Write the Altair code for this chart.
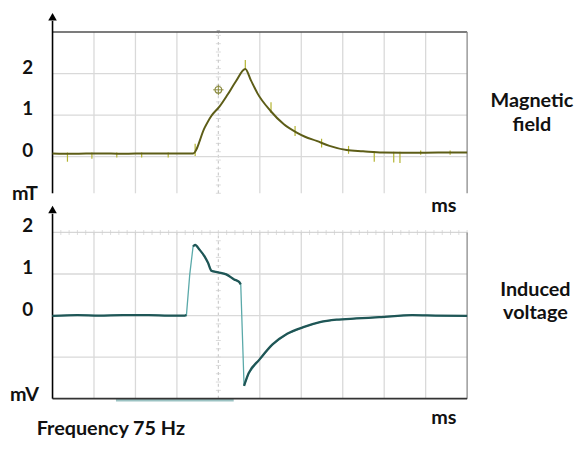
import altair as alt
import pandas as pd

# ---------------- data ----------------
# x in screen divisions (0..10), y in panel units (grid = 1 unit)
field_x = [0, 0.5, 1.12, 1.7, 2.32, 2.9, 3.39, 3.67, 3.83, 4.03, 4.22, 4.42, 4.65,
           4.78, 4.94, 5.26, 5.58, 5.89, 6.09, 6.37, 6.68, 7.09, 7.49, 7.96, 8.68, 9.3, 10]
field_y = [0.08, 0.07, 0.08, 0.07, 0.08, 0.08, 0.08, 0.70, 0.98, 1.21, 1.49, 1.81, 2.11,
           1.85, 1.53, 1.10, 0.78, 0.58, 0.48, 0.38, 0.26, 0.16, 0.13, 0.10, 0.095, 0.10, 0.10]

spike_x = [0.36, 0.95, 1.55, 2.15, 2.79, 3.44, 4.65, 5.27, 5.85, 6.49, 7.14, 7.76, 8.23, 8.38, 8.88, 9.59]
spike_top = [0.10, 0.10, 0.10, 0.10, 0.10, 0.31, 2.33, 1.31, 0.74, 0.43, 0.26, 0.14, 0.12, 0.12, 0.15, 0.15]
spike_bot = [-0.12, -0.05, -0.02, -0.02, -0.02, 0.02, 2.10, 1.05, 0.50, 0.22, 0.07, -0.12, -0.14, -0.15, 0.05, 0.05]

volt_x = [0, 0.6, 1.12, 1.7, 2.32, 2.8, 3.19, 3.23, 3.31, 3.39, 3.44, 3.55, 3.67, 3.75, 3.83,
          3.99, 4.19, 4.38, 4.50, 4.54, 4.62, 4.73, 4.99, 5.30, 5.66, 6.05, 6.45, 6.85, 7.33,
          7.88, 8.68, 9.24, 10]
volt_y = [-0.01, 0.01, 0.0, 0.01, 0.01, 0.0, 0.0, 0.01, 0.99, 1.66, 1.70, 1.58, 1.42, 1.27, 1.08,
          1.04, 0.99, 0.87, 0.81, 0.75, -1.69, -1.39, -1.06, -0.70, -0.44, -0.28, -0.16, -0.10, -0.07,
          -0.04, 0.01, 0.0, -0.01]
volt_seg = [0] * 8 + [9] + [1] * 11 + [2] * 13

top_ticks = [0, 1, 2]
top_labels = ["2", "1", "0"]
top_label_vals = [2, 1, 0]
bot_labels = ["2", "1", "0"]
bot_label_vals = [2, 1, 0]

# ---------------- geometry ----------------
W = 572
H1, H2 = 191, 243
XD = [-1.074, 12.578]
TOP_D = [-1.024, 3.524]
BOT_D = [-2.988, 2.798]

xs = alt.Scale(domain=XD, nice=False, zero=False)
ys_top = alt.Scale(domain=TOP_D, nice=False, zero=False)
ys_bot = alt.Scale(domain=BOT_D, nice=False, zero=False)

FONT = "Lato"
GRID = "#d9d9d9"
FS = 20


def X(f="x"):
    return alt.X(f"{f}:Q", scale=xs, axis=None)


def Y(sc, f="y"):
    return alt.Y(f"{f}:Q", scale=sc, axis=None)


def vrules(xv, y0, y1, sc, **kw):
    df = pd.DataFrame({"x": xv, "y": [y0] * len(xv), "y2": [y1] * len(xv)})
    return alt.Chart(df).mark_rule(**kw).encode(x=X(), y=Y(sc), y2="y2:Q")


def hrules(yv, x0, x1, sc, **kw):
    df = pd.DataFrame({"y": yv, "x": [x0] * len(yv), "x2": [x1] * len(yv)})
    return alt.Chart(df).mark_rule(**kw).encode(x=X(), x2="x2:Q", y=Y(sc))


def texts(xv, yv, tv, sc, **kw):
    df = pd.DataFrame({"x": xv, "y": yv, "t": tv})
    base = dict(font=FONT, fontWeight="bold", fontSize=FS, color="#111111")
    base.update(kw)
    return alt.Chart(df).mark_text(**base).encode(x=X(), y=Y(sc), text="t:N")


def points(xv, yv, sc, **kw):
    df = pd.DataFrame({"x": xv, "y": yv})
    return alt.Chart(df).mark_point(**kw).encode(x=X(), y=Y(sc))


minor = [i / 5 for i in range(0, 51)]

# ---------------- top panel: magnetic field ----------------
t_lo, t_hi = -0.88, 3.0
top_layers = [
    vrules([1, 2, 3, 5, 6, 7, 8, 9], t_lo, t_hi, ys_top, color=GRID, strokeWidth=1.3),
    vrules([4], t_lo, t_hi, ys_top, color="#cccccc", strokeWidth=1.2, strokeDash=[3, 3]),
    alt.Chart(pd.DataFrame({"x": [4] * 20, "y": [t_lo + 0.2 * i for i in range(20)]}))
    .mark_tick(orient="horizontal", size=5, thickness=1, color="#cccccc")
    .encode(x=X(), y=Y(ys_top)),
    hrules(top_ticks, 0, 10, ys_top, color=GRID, strokeWidth=1.3),
    hrules([t_hi], 0, 10, ys_top, color="#505050", strokeWidth=1.6),
    vrules([10], t_lo, t_hi, ys_top, color="#8a8a8a", strokeWidth=1.3),
    vrules([0], t_lo, 3.27, ys_top, color="#000000", strokeWidth=1.6),
    points([0], [3.37], ys_top, shape="triangle-up", filled=True, color="#000000",
           size=75, strokeWidth=0, opacity=1),
    points([4], [3.0], ys_top, shape="triangle-down", filled=True, color="#777777",
           size=14, strokeWidth=0, opacity=1),
    alt.Chart(pd.DataFrame({"x": spike_x, "y": spike_bot, "y2": spike_top}))
    .mark_rule(color="#b3b330", strokeWidth=1.2)
    .encode(x=X(), y=Y(ys_top), y2="y2:Q"),
    alt.Chart(pd.DataFrame({"x": field_x, "y": field_y}))
    .mark_line(color="#5d5d17", strokeWidth=2, strokeJoin="round", interpolate="monotone")
    .encode(x=X(), y=Y(ys_top)),
    points([4], [1.61], ys_top, shape="circle", filled=False, color="#8c8c40",
           size=45, strokeWidth=1.2, opacity=1),
    points([4], [1.61], ys_top, shape="M-1,0L1,0M0,-1L0,1", filled=False, color="#8c8c40",
           size=110, strokeWidth=1, opacity=1),
    texts([-0.597] * 3, top_label_vals, top_labels, ys_top, align="center",
          baseline="middle", dy=-6, fontSize=19),
    texts([-0.979], [-1.048], ["mT"], ys_top, align="left", baseline="alphabetic"),
    texts([9.44], [-1.333], ["ms"], ys_top, align="center", baseline="alphabetic"),
    alt.Chart(pd.DataFrame({"x": [11.563], "y": [1.19]}))
    .mark_text(text=["Magnetic", "field"], lineHeight=24, font=FONT, fontWeight="bold",
               fontSize=FS, color="#111111", align="center", baseline="alphabetic")
    .encode(x=X(), y=Y(ys_top)),
]
top = alt.layer(*top_layers).properties(width=W, height=H1)

# ---------------- bottom panel: induced voltage ----------------
b_lo, b_hi = -2.0, 2.0
volt_df = pd.DataFrame({"x": volt_x, "y": volt_y, "seg": volt_seg})
bot_layers = [
    vrules([1, 2, 3, 5, 6, 7, 8, 9], b_lo, b_hi, ys_bot, color=GRID, strokeWidth=1.3),
    vrules([4], b_lo, b_hi, ys_bot, color="#cccccc", strokeWidth=1.2, strokeDash=[3, 3]),
    alt.Chart(pd.DataFrame({"x": [4] * 21, "y": [b_lo + 0.2 * i for i in range(21)]}))
    .mark_tick(orient="horizontal", size=5, thickness=1, color="#cccccc")
    .encode(x=X(), y=Y(ys_bot)),
    hrules([1, 0, -1], 0, 10, ys_bot, color=GRID, strokeWidth=1.3),
    hrules([b_hi], 0, 10, ys_bot, color="#d6d6d6", strokeWidth=1.3),
    alt.Chart(pd.DataFrame({"x": minor, "y": [b_hi] * len(minor)}))
    .mark_tick(orient="vertical", size=5, thickness=1, color="#cfcfcf")
    .encode(x=X(), y=Y(ys_bot)),
    vrules([10], b_lo, b_hi, ys_bot, color="#8a8a8a", strokeWidth=1.3),
    hrules([-2.03], 1.53, 4.37, ys_bot, color="#9cc3c3", strokeWidth=3),
    hrules([b_lo], 0, 10, ys_bot, color="#333333", strokeWidth=1.6),
    vrules([0], b_lo, 2.45, ys_bot, color="#000000", strokeWidth=1.6),
    points([0], [2.55], ys_bot, shape="triangle-up", filled=True, color="#000000",
           size=75, strokeWidth=0, opacity=1),
    alt.Chart(volt_df).mark_line(color="#5aa9a9", strokeWidth=1.3)
    .encode(x=X(), y=Y(ys_bot), order="x:Q"),
    alt.Chart(volt_df).transform_filter("datum.seg < 9")
    .mark_line(color="#1f5656", strokeWidth=2.3, strokeJoin="round", interpolate="monotone")
    .encode(x=X(), y=Y(ys_bot), detail="seg:N", order="x:Q"),
    texts([-0.597] * 3, bot_label_vals, bot_labels, ys_bot, align="center",
          baseline="middle", dy=-6, fontSize=19),
    texts([-1.026], [-2.06], ["mV"], ys_bot, align="left", baseline="alphabetic"),
    texts([9.44], [-2.607], ["ms"], ys_bot, align="center", baseline="alphabetic"),
    texts([-0.382], [-2.869], ["Frequency 75 Hz"], ys_bot, align="left", baseline="alphabetic"),
    alt.Chart(pd.DataFrame({"x": [11.647], "y": [0.464]}))
    .mark_text(text=["Induced", "voltage"], lineHeight=23, font=FONT, fontWeight="bold",
               fontSize=FS, color="#111111", align="center", baseline="alphabetic")
    .encode(x=X(), y=Y(ys_bot)),
]
bottom = alt.layer(*bot_layers).properties(width=W, height=H2)

chart = (
    alt.vconcat(top, bottom, spacing=0, bounds="flush")
    .properties(padding=0, background="white")
    .configure_view(stroke=None)
)

chart.save("out.html", embed_options={"renderer": "svg", "actions": False})
